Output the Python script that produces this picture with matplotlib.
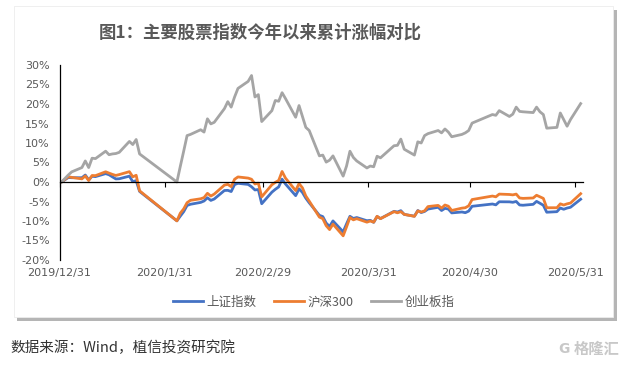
import pandas as pd
import matplotlib.pyplot as plt
import matplotlib.dates as mdates
from matplotlib.patches import Rectangle

plt.rcParams['font.family'] = ['Noto Sans CJK SC', 'DejaVu Sans']

# trading days (day of month) per month
jan_days = [2, 3, 6, 7, 8, 9, 10, 13, 14, 15, 16, 17, 20, 21, 22, 23]
feb_days = [3, 4, 5, 6, 7, 10, 11, 12, 13, 14, 17, 18, 19, 20, 21, 24, 25, 26, 27, 28]
mar_days = [2, 3, 4, 5, 6, 9, 10, 11, 12, 13, 16, 17, 18, 19, 20, 23, 24, 25, 26, 27, 30, 31]
apr_days = [1, 2, 3, 7, 8, 9, 10, 13, 14, 15, 16, 17, 20, 21, 22, 23, 24, 27, 28, 29, 30]
may_days = [6, 7, 8, 11, 12, 13, 14, 15, 18, 19, 20, 21, 22, 25, 26, 27, 28, 29]
jun_days = [1]

# cumulative change since 2019/12/31, %
sh = [0,
      1.15, 1.10, 1.09, 1.79, 0.55, 1.47, 1.38, 2.15, 1.86, 1.31, 0.79, 0.83, 1.50, 0.07, 0.35, -2.41,
      -9.95, -8.75, -7.61, -6.02, -5.71, -5.23, -4.87, -4.04, -4.72, -4.36, -2.18, -2.14, -2.45, -0.65,
      -0.34, -0.62, -1.22, -2.04, -1.93, -5.57,
      -2.60, -1.88, -1.26, 0.71, -0.51, -3.50, -1.75, -2.68, -4.15, -5.33, -8.55, -8.87, -10.54, -11.41,
      -9.98, -12.78, -10.74, -8.80, -9.35, -9.11, -9.93, -9.83,
      -10.35, -8.84, -9.38, -7.52, -7.70, -7.35, -8.31, -8.76, -7.31, -7.83, -7.55, -6.94, -6.48, -7.31,
      -6.76, -6.94, -7.92, -7.69, -7.87, -7.46, -6.23,
      -5.64, -5.86, -5.07, -5.09, -5.20, -4.99, -5.89, -5.96, -5.73, -4.97, -5.45, -5.97, -7.75, -7.61,
      -6.67, -6.99, -6.68, -6.48,
      -4.42]
hs300 = [0,
         1.36, 1.18, 0.80, 1.55, 0.38, 1.66, 1.63, 2.62, 2.28, 1.95, 1.68, 1.90, 2.65, 1.33, 1.72, -2.26,
         -9.97, -8.0, -6.9, -5.3, -4.7, -4.3, -4.0, -2.9, -3.6, -3.1, -0.8, -0.6, -1.2, 0.7,
         1.3, 1.0, 0.7, -0.5, -0.3, -3.8,
         -0.7, -0.1, 0.4, 2.7, 1.0, -2.2, -0.4, -1.5, -3.6, -4.9, -9.0, -9.4, -11.2, -12.2,
         -10.8, -13.8, -11.5, -9.1, -9.7, -9.4, -10.3, -10.0,
         -10.3, -8.8, -9.4, -7.6, -7.9, -7.6, -8.3, -8.8, -7.4, -7.7, -7.4, -6.3, -6.0, -6.7,
         -5.9, -6.2, -7.3, -6.7, -6.6, -6.1, -4.5,
         -3.6, -3.8, -3.1, -3.2, -3.3, -3.1, -4.1, -4.2, -4.1, -3.4, -3.8, -4.2, -6.6, -6.6,
         -5.6, -5.9, -5.6, -5.4,
         -3.0]
cyb = [0,
       1.8, 2.6, 3.7, 5.4, 3.7, 6.1, 6.0, 7.9, 7.0, 7.2, 7.3, 7.6, 10.4, 9.6, 10.9, 7.2,
       0.0, 4.0, 7.9, 11.9, 12.2, 13.4, 12.8, 16.2, 14.9, 15.3, 18.8, 20.6, 19.2, 21.8,
       24.0, 25.8, 27.3, 21.8, 22.4, 15.5,
       18.3, 20.9, 20.7, 22.9, 21.4, 16.6, 19.6, 16.8, 14.0, 13.2, 6.7, 6.9, 5.1, 5.6,
       6.7, 1.5, 4.1, 7.9, 6.3, 5.4, 3.6, 4.1,
       3.9, 6.6, 6.2, 9.3, 9.4, 11.0, 8.4, 6.9, 10.3, 10.0, 11.9, 12.4, 13.2, 12.6,
       13.6, 12.8, 11.6, 12.2, 12.6, 13.2, 15.1,
       17.3, 17.1, 18.3, 16.8, 17.4, 19.2, 18.1, 18.0, 17.8, 19.2, 18.0, 17.3, 13.8, 14.0,
       17.7, 16.0, 14.3, 16.0,
       20.1]

series_names = ['上证指数', '沪深300', '创业板指']
colors = ['#4472C4', '#ED7D31', '#A5A5A5']
tick_labels = ['2019/12/31', '2020/1/31', '2020/2/29', '2020/3/31', '2020/4/30', '2020/5/31']

dates = [pd.Timestamp('2019-12-31')]
for m, days in zip(range(1, 7), [jan_days, feb_days, mar_days, apr_days, may_days, jun_days]):
    dates += [pd.Timestamp(2020, m, d) for d in days]
x = mdates.date2num(dates)

fig = plt.figure(figsize=(6.29, 3.65), dpi=100)
W, H = 629, 365

# card with a shadow
fig.patches.append(Rectangle((17 / W, 1 - 321 / H), 600 / W, 311 / H, transform=fig.transFigure,
                             facecolor='#b5b5b5', edgecolor='none', zorder=-3))
fig.patches.append(Rectangle((14 / W, 1 - 317 / H), 599 / W, 311 / H, transform=fig.transFigure,
                             facecolor='white', edgecolor='#ececec', lw=0.6, zorder=-2))

fig.text(260 / W, 1 - 33 / H, '图1：主要股票指数今年以来累计涨幅对比', ha='center', va='center',
         fontsize=12.5, fontweight='bold', color='#595959')

ax = fig.add_axes([59.5 / W, 1 - 260 / H, 523.2 / W, 195 / H])
ax.patch.set_alpha(0)
for vals, name, c in zip([sh, hs300, cyb], series_names, colors):
    ax.plot(x, vals, color=c, lw=2.0, label=name, solid_joinstyle='round')

shift = 0.6
x0 = mdates.date2num(pd.Timestamp('2019-12-31'))
ax.set_xlim(x0 - shift, x0 + 153.6)
ax.set_ylim(-20, 30)
ax.set_yticks(range(-20, 31, 5))
ax.set_yticklabels([f'{v}%' for v in range(-20, 31, 5)])

ticks = [mdates.date2num(pd.Timestamp(t.replace('/', '-'))) - shift for t in tick_labels]
ax.set_xticks(ticks)
ax.set_xticklabels([])
for t, lab in zip(ticks, tick_labels):
    ax.text(t, -0.068, lab, transform=ax.get_xaxis_transform(), ha='center', va='center',
            fontsize=8, color='#595959', family='DejaVu Sans')

for s in ['top', 'right']:
    ax.spines[s].set_visible(False)
ax.spines['bottom'].set_position(('data', 0))
ax.spines['bottom'].set_linewidth(0.9)
ax.spines['left'].set_linewidth(0.9)
ax.tick_params(axis='x', direction='out', length=3.5, width=0.8)
ax.tick_params(axis='y', length=0, pad=7, labelsize=8, labelcolor='#595959')
for lab in ax.get_yticklabels():
    lab.set_family('DejaVu Sans')

fig.legend(loc='center', bbox_to_anchor=(314 / W, 1 - 302 / H), ncol=3, frameon=False,
           fontsize=9, handlelength=2.4, handletextpad=0.3, columnspacing=1.4,
           labelcolor='#595959')

fig.text(10 / W, 1 - 348 / H, '数据来源：Wind，植信投资研究院', ha='left', va='center',
         fontsize=10.5, color='#333333')
fig.text(564 / W, 1 - 349 / H, 'G', ha='center', va='center', fontsize=10, color='#c8c8c8',
         fontweight='bold', family='DejaVu Sans')
fig.text(597 / W, 1 - 349 / H, '格隆汇', ha='center', va='center', fontsize=11, color='#c8c8c8',
         fontweight='bold')

fig.savefig('out.png', dpi=100)
